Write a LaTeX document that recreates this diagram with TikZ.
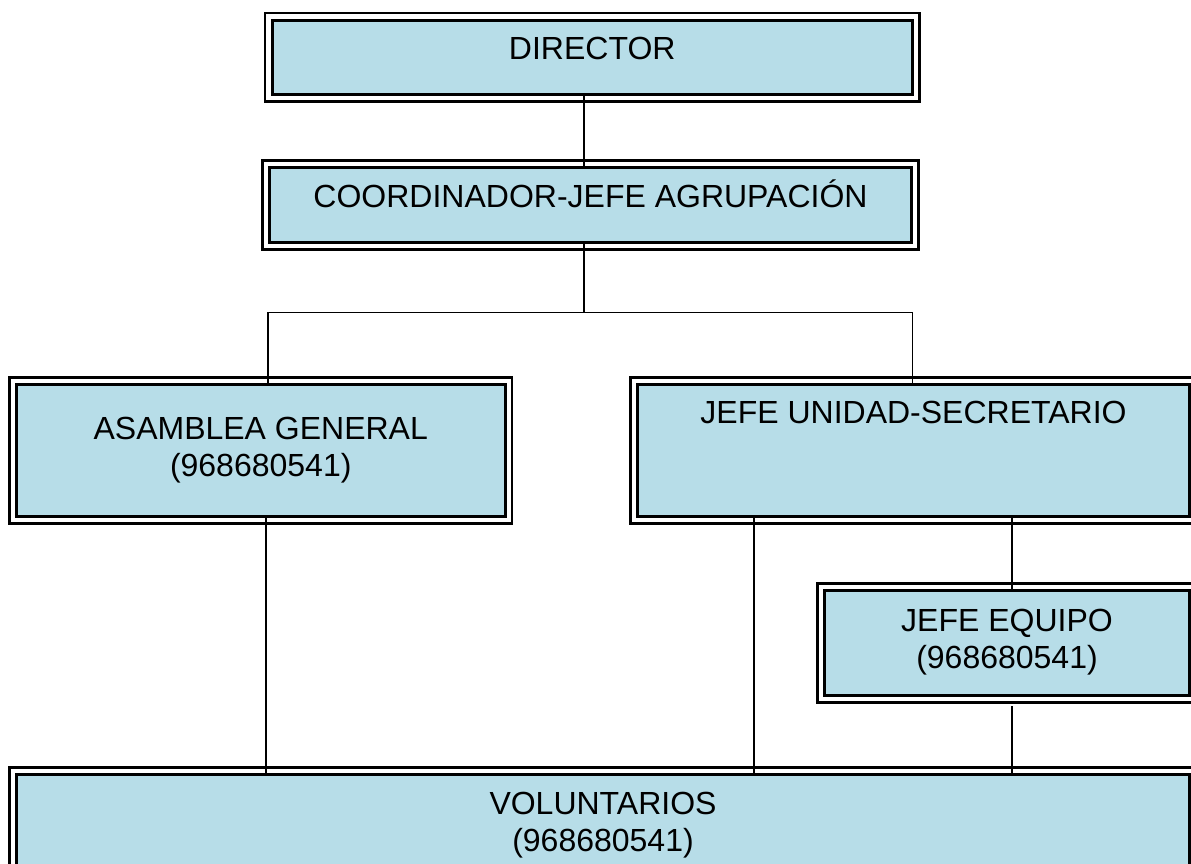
\documentclass[tikz,border=0pt]{standalone}
\usepackage{fontspec}
\setmainfont{Liberation Sans}
\definecolor{boxblue}{RGB}{183,221,232}
\begin{document}
\begin{tikzpicture}[x=1pt,y=-1pt,
  inbox/.style={draw=black, line width=3pt, fill=boxblue, inner sep=0pt, anchor=north west},
  outbox/.style={draw=black, line width=2.2pt},
  lbl/.style={font=\fontsize{32}{37}\selectfont, align=center, inner sep=0pt, anchor=north,
              execute at begin node={\rule{0pt}{30pt}}},
  conn/.style={draw=black, line width=1.6pt}]
\useasboundingbox (0,0) rectangle (1191,863);
% boxes (inner rectangles)
\node[inbox, minimum width=640.5pt, minimum height=74.5pt] (dir) at (270.5,18.5) {};
\node[inbox, minimum width=642pt, minimum height=75pt] (coord) at (268,166) {};
\node[inbox, minimum width=488.5pt, minimum height=132pt] (asam) at (15,383) {};
\node[inbox, minimum width=552pt, minimum height=132pt] (unidad) at (636,383) {};
\node[inbox, minimum width=365pt, minimum height=105pt] (equipo) at (823,589) {};
\node[inbox, minimum width=1173pt, minimum height=130pt] (vol) at (15,773) {};
% outer frames
\foreach \n in {dir,coord,asam,unidad,equipo,vol}
  \draw[outbox] ([shift={(-5.5,-5.5)}]\n.north west) rectangle ([shift={(5.5,5.5)}]\n.south east);
% labels
\node[lbl] (tdir) at ([yshift=-11pt]dir.north) {DIRECTOR};
\node[lbl] (tcoord) at ([yshift=-11pt]coord.north) {COORDINADOR-JEFE AGRUPACIÓN};
\node[lbl] (tasam) at ([yshift=-34pt]asam.north) {ASAMBLEA GENERAL\\(968680541)};
\node[lbl] (tunidad) at ([yshift=-10pt]unidad.north) {JEFE UNIDAD-SECRETARIO};
\node[lbl] (tequipo) at ([yshift=-20pt]equipo.north) {JEFE EQUIPO\\(968680541)};
\node[lbl] (tvol) at ([yshift=-19pt]vol.north) {VOLUNTARIOS\\(968680541)};
% connectors
\coordinate (jn) at (584,312.5);
\draw[conn] (dir.south -| jn) -- (coord.north -| jn);
\draw[conn] (coord.south -| jn) -- (jn);
\draw[conn] (asam.north -| 267.7,0) -- (267.7,312.5) -- (912.3,312.5) -- (unidad.north -| 912.3,0);
\draw[conn] (asam.south -| 265.7,0) -- (vol.north -| 265.7,0);
\draw[conn] (unidad.south -| 754,0) -- (vol.north -| 754,0);
\draw[conn] (unidad.south -| 1011.7,0) -- (equipo.north -| 1011.7,0);
\draw[conn] ([yshift=-9pt]equipo.south -| 1011.7,0) -- (vol.north -| 1011.7,0);
\end{tikzpicture}
\end{document}
